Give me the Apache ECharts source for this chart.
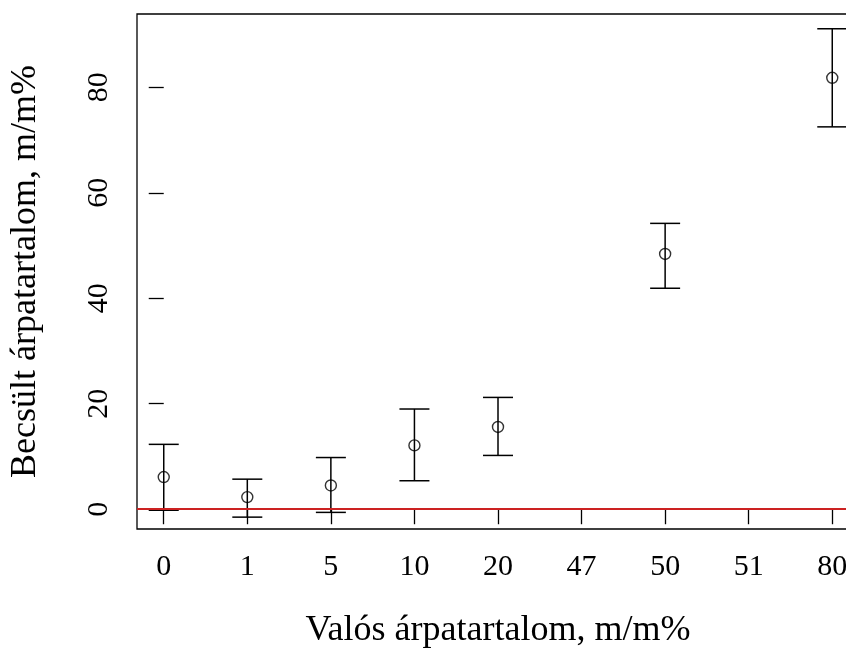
<!DOCTYPE html>
<html>
<head>
<meta charset="utf-8">
<script src="https://cdn.jsdelivr.net/npm/echarts@6/dist/echarts.min.js"></script>
<style>
  html, body { margin: 0; padding: 0; background: #fff; }
  #chart { width: 846px; height: 651px; }
</style>
</head>
<body>
<div id="chart"></div>
<script>
// Actual barley content levels (m/m%) shown as categories on the x axis
const categories = ['0', '1', '5', '10', '20', '47', '50', '51', '80'];
// Estimated barley content: mean and interval limits (null = no estimate)
const estimate = [6.1, 2.3, 4.5, 12.1, 15.6, null, 48.4, null, 81.8];
const lower    = [-0.2, -1.5, -0.6, 5.4, 10.2, null, 41.9, null, 72.5];
const upper    = [12.3, 5.7, 9.8, 19.0, 21.2, null, 54.2, null, 91.1];
// Tick values on the y axis
const yTicks = [0, 20, 40, 60, 80];
// Reference level
const refLine = 0;

const serif = 'Liberation Serif, Times New Roman, serif';
const idx = categories.map((_, i) => i);

const pointData = [];
const barData = [];
categories.forEach((c, i) => {
  if (estimate[i] !== null) {
    pointData.push([i, estimate[i]]);
    barData.push([i, lower[i], upper[i]]);
  }
});

const chart = echarts.init(document.getElementById('chart'), null, { renderer: 'canvas' });

chart.setOption({
  animation: false,
  backgroundColor: '#fff',
  grid: {
    left: 137, top: 14, width: 722, height: 515,
    show: true, borderColor: '#000', borderWidth: 1.3,
    backgroundColor: 'transparent', containLabel: false,
    outerBoundsMode: 'none'
  },
  xAxis: {
    type: 'value',
    min: -0.32, max: 8.32,
    name: 'Valós árpatartalom, m/m%',
    nameLocation: 'middle',
    nameGap: 84,
    nameTextStyle: { fontFamily: serif, fontSize: 36, color: '#000' },
    axisLine: { show: false },
    splitLine: { show: false },
    axisTick: {
      show: true, inside: false, length: 15,
      customValues: idx,
      lineStyle: { color: '#000', width: 1.3 }
    },
    axisLabel: {
      customValues: idx,
      formatter: v => categories[Math.round(v)],
      fontFamily: serif, fontSize: 30, color: '#000', margin: 23
    }
  },
  yAxis: {
    type: 'value',
    min: -3.75, max: 93.9,
    name: 'Becsült árpatartalom, m/m%',
    nameLocation: 'middle',
    nameGap: 93,
    nameTextStyle: { fontFamily: serif, fontSize: 36, color: '#000' },
    axisLine: { show: false },
    splitLine: { show: false },
    axisTick: {
      show: true, inside: false, length: 15,
      customValues: yTicks,
      lineStyle: { color: '#000', width: 1.3 }
    },
    axisLabel: {
      customValues: yTicks,
      rotate: 90,
      fontFamily: serif, fontSize: 30, color: '#000', margin: 23
    }
  },
  series: [
    {
      // interval bars with end caps
      type: 'custom',
      data: barData,
      clip: false,
      renderItem: function (params, api) {
        const x = api.value(0);
        const lo = api.coord([x, api.value(1)]);
        const hi = api.coord([x, api.value(2)]);
        const half = 15;
        const style = { stroke: '#000', lineWidth: 1.5 };
        return {
          type: 'group',
          children: [
            { type: 'line', shape: { x1: lo[0], y1: lo[1], x2: hi[0], y2: hi[1] }, style: style },
            { type: 'line', shape: { x1: hi[0] - half, y1: hi[1], x2: hi[0] + half, y2: hi[1] }, style: style },
            { type: 'line', shape: { x1: lo[0] - half, y1: lo[1], x2: lo[0] + half, y2: lo[1] }, style: style }
          ]
        };
      },
      z: 2
    },
    {
      type: 'scatter',
      data: pointData,
      symbol: 'circle',
      symbolSize: 11,
      itemStyle: { color: 'transparent', borderColor: '#000', borderWidth: 1.4 },
      z: 3,
      markLine: {
        silent: true,
        symbol: ['none', 'none'],
        label: { show: false },
        lineStyle: { color: '#cc2222', width: 2, type: 'solid' },
        data: [{ yAxis: refLine }]
      }
    }
  ]
});
</script>
</body>
</html>
